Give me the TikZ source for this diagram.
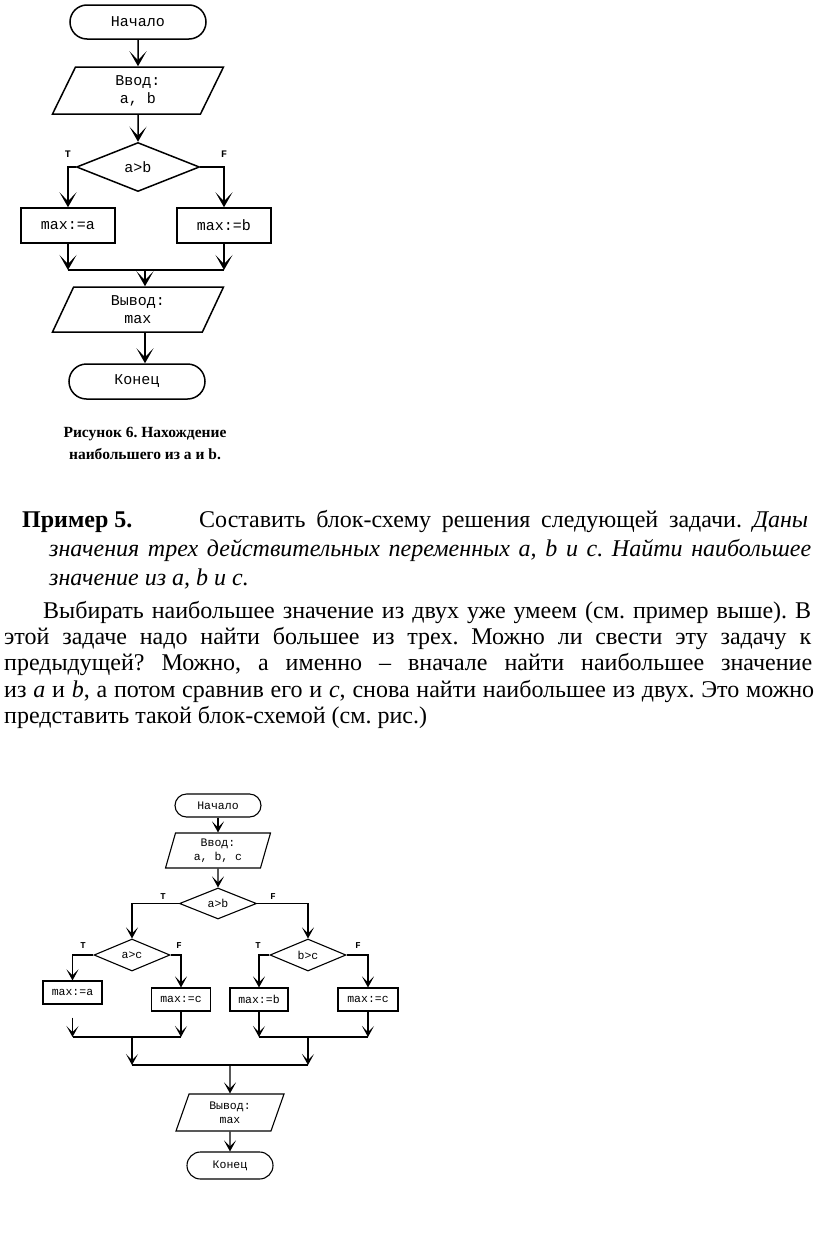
\documentclass[tikz,border=0pt]{standalone}
\usepackage{fontspec}
\setmainfont{Liberation Serif}
\setmonofont{Liberation Mono}
\usepackage{tikz}
\usetikzlibrary{shapes,shapes.geometric,arrows,positioning,calc,arrows.meta}
\frenchspacing

\tikzset{
    startstop/.style 2 args={draw, rectangle, inner sep=0pt, minimum width=#1, minimum height=#2, rounded corners=0.5*#2},
    io/.style 2 args={draw, trapezium, trapezium left angle=#1, trapezium right angle=#2, trapezium stretches body, inner sep=0pt, align=center},
    cond/.style={draw, diamond, inner sep=0pt},
    box/.style={draw, rectangle, inner sep=0pt},
    chartA/.style={line width=1.5pt, font=\ttfamily\fontsize{15}{18}\selectfont,
        arr/.style={-{Stealth[length=15pt, width=17pt, inset=9pt]}},
        tf/.style={font=\ttfamily\bfseries\fontsize{10}{12}\selectfont, inner sep=0pt}},
    chartB/.style={line width=1.1pt, font=\ttfamily\fontsize{11.5}{14}\selectfont,
        arr/.style={-{Stealth[length=11pt, width=12pt, inset=6pt]}},
        tf/.style={font=\ttfamily\bfseries\fontsize{9}{11}\selectfont, inner sep=0pt}},
    body/.style={anchor=base west, inner sep=0pt, font=\fontsize{24}{28}\selectfont}
}

\begin{document}
\begin{tikzpicture}[x=1pt, y=-1pt]
    \fill[white] (0,0) rectangle (816,1245);
    \useasboundingbox (0,0) rectangle (816,1245);

    % Max of two
    \begin{scope}[chartA]
        \node[startstop={136pt}{34pt}] (startA) at (138,22) {Начало};
        \node[io={53}{127}, minimum width=171pt, minimum height=47pt] (inA) at (138,90.5) {Ввод:\\a, b};
        \node[cond, minimum width=123pt, minimum height=49pt] (condA) at (138,167) {a>b};
        \node[box, minimum width=94pt, minimum height=35pt] (maxaA) at (68,225.5) {max:=a};
        \node[box, minimum width=94pt, minimum height=35pt] (maxbA) at (224,225.5) {max:=b};
        \coordinate (joinA) at (145,270);
        \node[io={53}{127}, minimum width=171pt, minimum height=45pt] (outA) at (138,309.5) {Вывод:\\max};
        \node[startstop={136pt}{35pt}] (endA) at (137,381.5) {Конец};

        \draw[arr] (startA) -- (inA);
        \draw[arr] (inA) -- (condA);
        \draw[arr] (condA.west) -| (maxaA.north);
        \draw[arr] (condA.east) -| (maxbA.north);
        \foreach \b in {maxaA, maxbA}
            \draw[arr] (\b) -- (\b |- joinA);
        \draw (maxaA |- joinA) -- (maxbA |- joinA);
        \draw[arr] (joinA) -- (joinA |- outA.north);
        \draw[arr] (joinA |- outA.south) -- (joinA |- endA.north);
        \foreach \x/\t [count=\i] in {68/T, 224/F}
            \node[tf] (tfA\i) at (\x,154) {\t};
    \end{scope}

    \node[font=\bfseries\fontsize{15.5}{22}\selectfont, align=center, inner sep=0pt] (capA) at (145,443)
        {Рисунок 6. Нахождение\\наибольшего из a и b.};

    % Text
    \node[body] (line1a) at (22,527) {\textbf{Пример 5.}};
    \node[body] (line1b) at (199,527) {\makebox[609pt][s]{Составить блок-схему решения следующей задачи. \textit{Даны}}};
    \node[body] (line2) at (49,556) {\makebox[762pt][s]{\itshape значения трех действительных переменных a, b и c. Найти наибольшее}};
    \node[body] (line3) at (49,585) {\itshape значение из a, b и c.};
    \node[body] (line4) at (43,618) {\makebox[768pt][s]{Выбирать наибольшее значение из двух уже умеем (см. пример выше). В}};
    \node[body] (line5) at (4,644) {\makebox[807pt][s]{этой задаче надо найти большее из трех. Можно ли свести эту задачу к}};
    \node[body] (line6) at (4,670) {\makebox[808pt][s]{предыдущей? Можно, а именно – вначале найти наибольшее значение}};
    \node[body] (line7) at (4,697) {\makebox[810pt][s]{из \textit{a} и \textit{b}, а потом сравнив его и \textit{c}, снова найти наибольшее из двух. Это можно}};
    \node[body] (line8) at (4,723) {представить такой блок-схемой (см. рис.)};

    % Max of three
    \begin{scope}[chartB]
        \node[startstop={86pt}{23pt}] (startB) at (218,805.5) {Начало};
        \node[io={67}{113}, minimum width=105pt, minimum height=35pt] (inB) at (218,850.5) {Ввод:\\a, b, c};
        \node[cond, minimum width=77pt, minimum height=31pt] (condB) at (218,903.5) {a>b};
        \node[cond, minimum width=76pt, minimum height=32pt] (condC) at (132,955) {a>c};
        \node[cond, minimum width=76pt, minimum height=32pt] (condD) at (308,955) {b>c};
        \node[box, minimum width=59pt, minimum height=23pt] (maxaB) at (72.5,992.5) {max:=a};
        \node[box, minimum width=59pt, minimum height=23pt] (maxcB) at (181,999.5) {max:=c};
        \node[box, minimum width=58pt, minimum height=23pt] (maxbB) at (259,999.5) {max:=b};
        \node[box, minimum width=60pt, minimum height=23pt] (maxcC) at (368,999.5) {max:=c};
        \coordinate (joinC) at (132,1037);
        \coordinate (joinD) at (308,1037);
        \coordinate (joinB) at (230,1065);
        \node[io={59}{121}, minimum width=108pt, minimum height=37pt] (outB) at (230,1112.5) {Вывод:\\max};
        \node[startstop={86pt}{27pt}] (endB) at (230,1165.5) {Конец};

        \draw[arr] (startB) -- (inB);
        \draw[arr] (inB) -- (condB);
        \draw[arr] (condB.west) -| (condC.north);
        \draw[arr] (condB.east) -| (condD.north);
        \draw[arr] (condC.west) -| (maxaB.north);
        \draw[arr] (condC.east) -| (maxcB.north);
        \draw[arr] (condD.west) -| (maxbB.north);
        \draw[arr] (condD.east) -| (maxcC.north);
        \draw[arr, shorten <=13pt] (maxaB) -- (maxaB |- joinC);
        \foreach \b/\j in {maxcB/joinC, maxbB/joinD, maxcC/joinD}
            \draw[arr] (\b) -- (\b |- \j);
        \draw (maxaB |- joinC) -- (maxcB |- joinC);
        \draw (maxbB |- joinD) -- (maxcC |- joinD);
        \draw[arr] (joinC) -- (joinC |- joinB);
        \draw[arr] (joinD) -- (joinD |- joinB);
        \draw (joinC |- joinB) -- (joinD |- joinB);
        \draw[arr] (joinB) -- (outB);
        \draw[arr] (outB) -- (endB);
        \foreach \x/\y/\t [count=\i] in {163/897/T, 273/897/F, 83/946/T, 179/946/F, 258/946/T, 358/946/F}
            \node[tf] (tfB\i) at (\x,\y) {\t};
    \end{scope}
\end{tikzpicture}
\end{document}
